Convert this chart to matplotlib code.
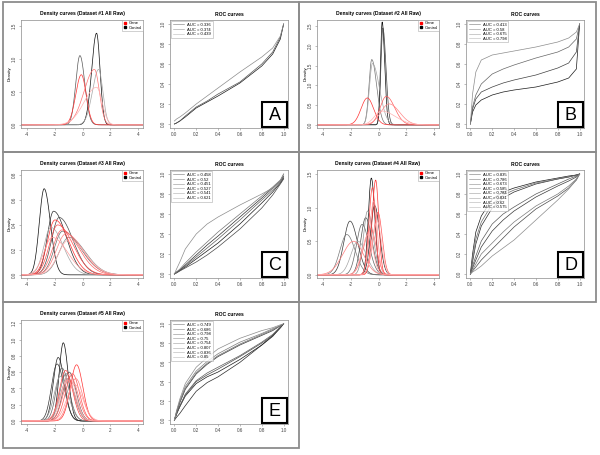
import numpy as np
import matplotlib
matplotlib.use("Agg")
import matplotlib.pyplot as plt
from matplotlib.patches import Rectangle
from matplotlib.lines import Line2D

plt.rcParams['font.family'] = ['Liberation Sans', 'DejaVu Sans']

W, H = 600, 455

# ---------------- data ----------------
titles = ["Density curves (Dataset #1 All Raw)", "Density curves (Dataset #2 All Raw)",
          "Density curves (Dataset #3 All Raw)", "Density curves (Dataset #4 All Raw)",
          "Density curves (Dataset #5 All Raw)"]
letters = ["A", "B", "C", "D", "E"]

# density curves: peak position, peak height, left / right spread
A_gene_peak = [-0.1, 0.85, 1.0]
A_gene_height = [0.76, 0.84, 0.57]
A_gene_left = [0.4, 0.75, 0.9]
A_gene_right = [0.35, 0.35, 0.4]
A_ctrl_peak = [1.0, -0.2, 1.15]
A_ctrl_height = [1.39, 1.05, 0.84]
A_ctrl_left = [0.35, 0.3, 0.45]
A_ctrl_right = [0.25, 0.35, 0.3]

B_gene_peak = [-0.82, 0.55, 0.75, 0.2]
B_gene_height = [0.68, 0.72, 0.53, 0.35]
B_gene_left = [0.45, 0.45, 0.6, 0.5]
B_gene_right = [0.45, 0.6, 0.75, 1.0]
B_ctrl_peak = [0.25, 0.3, -0.5, -0.45]
B_ctrl_height = [2.6, 2.45, 1.65, 1.55]
B_ctrl_left = [0.12, 0.14, 0.2, 0.22]
B_ctrl_right = [0.18, 0.22, 0.35, 0.5]

C_gene_peak = [-2.0, -1.8, -1.5, -1.2, -2.2, -1.0]
C_gene_height = [0.44, 0.40, 0.36, 0.33, 0.30, 0.28]
C_gene_left = [0.55, 0.6, 0.65, 0.7, 0.6, 0.75]
C_gene_right = [1.0, 1.1, 1.2, 1.2, 1.1, 1.2]
C_ctrl_peak = [-2.78, -2.1, -1.7, -1.45, -1.0, -2.3]
C_ctrl_height = [0.69, 0.51, 0.46, 0.35, 0.30, 0.38]
C_ctrl_left = [0.35, 0.45, 0.55, 0.6, 0.7, 0.5]
C_ctrl_right = [0.45, 0.9, 1.0, 1.3, 1.2, 0.9]

D_gene_peak = [-0.22, -0.45, -0.05, -0.58, -1.8, -0.35, -0.75, -0.1]
D_gene_height = [1.41, 1.3, 0.93, 0.69, 0.50, 1.1, 0.6, 0.8]
D_gene_left = [0.25, 0.25, 0.35, 0.5, 0.8, 0.3, 0.45, 0.35]
D_gene_right = [0.22, 0.22, 0.3, 0.4, 0.7, 0.25, 0.35, 0.3]
D_ctrl_peak = [-0.53, -0.29, -2.07, -0.94, -1.2, -2.3, -0.8, -1.5]
D_ctrl_height = [1.44, 1.03, 0.80, 0.85, 0.75, 0.6, 0.95, 0.5]
D_ctrl_left = [0.22, 0.3, 0.45, 0.35, 0.4, 0.5, 0.3, 0.5]
D_ctrl_right = [0.25, 0.35, 0.55, 0.45, 0.5, 0.6, 0.4, 0.6]

E_gene_peak = [-0.44, -1.23, -0.74, -0.9, -0.5, -1.1, -0.6, -1.0]
E_gene_height = [0.69, 0.62, 0.58, 0.55, 0.52, 0.50, 0.45, 0.57]
E_gene_left = [0.45, 0.45, 0.5, 0.5, 0.5, 0.55, 0.55, 0.5]
E_gene_right = [0.45, 0.5, 0.5, 0.55, 0.5, 0.55, 0.6, 0.5]
E_ctrl_peak = [-1.4, -1.77, -1.85, -0.98, -1.5, -1.2, -1.6, -1.1]
E_ctrl_height = [0.96, 0.78, 0.70, 0.60, 0.65, 0.58, 0.55, 0.52]
E_ctrl_left = [0.3, 0.35, 0.4, 0.45, 0.4, 0.45, 0.45, 0.5]
E_ctrl_right = [0.35, 0.45, 0.5, 0.5, 0.5, 0.55, 0.55, 0.55]

# density y axes
dens_ytop = [1.59, 2.65, 0.84, 1.56, 1.24]
dens_yticks = [[0, 0.5, 1.0, 1.5], [0, 0.5, 1.0, 1.5, 2.0, 2.5],
               [0, 0.2, 0.4, 0.6, 0.8], [0, 0.5, 1.0, 1.5],
               [0, 0.2, 0.4, 0.6, 0.8, 1.0, 1.2]]

# ROC curves: TPR at these FPR values
roc_fpr = [0, 0.02, 0.05, 0.1, 0.2, 0.3, 0.4, 0.6, 0.8, 0.9, 0.97, 1.0]

A_auc = ["0.336", "0.374", "0.439"]
A_roc = [[0, 0.01, 0.03, 0.07, 0.16, 0.22, 0.28, 0.41, 0.58, 0.70, 0.85, 1.0],
         [0, 0.01, 0.03, 0.08, 0.17, 0.23, 0.30, 0.42, 0.60, 0.72, 0.87, 1.0],
         [0.03, 0.05, 0.07, 0.11, 0.20, 0.28, 0.36, 0.52, 0.67, 0.76, 0.88, 1.0]]

B_auc = ["0.413", "0.58", "0.675", "0.798"]
B_roc = [[0, 0.12, 0.19, 0.24, 0.29, 0.32, 0.34, 0.37, 0.42, 0.46, 0.55, 1.0],
         [0, 0.15, 0.25, 0.32, 0.37, 0.41, 0.44, 0.49, 0.56, 0.61, 0.72, 1.0],
         [0, 0.17, 0.29, 0.40, 0.50, 0.55, 0.59, 0.66, 0.72, 0.77, 0.85, 1.0],
         [0, 0.30, 0.52, 0.64, 0.69, 0.71, 0.73, 0.77, 0.82, 0.86, 0.92, 1.0]]

C_auc = ["0.458", "0.52", "0.451", "0.527", "0.541", "0.621"]
C_roc = [[0, 0.015, 0.035, 0.07, 0.15, 0.23, 0.31, 0.50, 0.71, 0.82, 0.91, 0.96],
         [0, 0.02, 0.04, 0.09, 0.19, 0.29, 0.38, 0.57, 0.76, 0.86, 0.93, 0.98],
         [0, 0.01, 0.03, 0.06, 0.12, 0.19, 0.27, 0.45, 0.66, 0.79, 0.90, 0.95],
         [0, 0.015, 0.04, 0.08, 0.17, 0.26, 0.35, 0.54, 0.74, 0.84, 0.92, 0.97],
         [0, 0.02, 0.05, 0.11, 0.22, 0.32, 0.42, 0.60, 0.78, 0.87, 0.94, 1.0],
         [0, 0.05, 0.12, 0.25, 0.40, 0.50, 0.57, 0.69, 0.80, 0.86, 0.93, 1.0]]

D_auc = ["0.835", "0.786", "0.673", "0.585", "0.784", "0.831", "0.62", "0.575"]
D_roc = [[0, 0.20, 0.42, 0.58, 0.75, 0.82, 0.86, 0.92, 0.96, 0.98, 0.99, 1.0],
         [0, 0.12, 0.30, 0.48, 0.66, 0.76, 0.82, 0.90, 0.95, 0.97, 0.99, 1.0],
         [0, 0.06, 0.14, 0.27, 0.43, 0.54, 0.63, 0.77, 0.88, 0.93, 0.97, 1.0],
         [0, 0.03, 0.07, 0.14, 0.25, 0.36, 0.47, 0.65, 0.78, 0.86, 0.94, 1.0],
         [0, 0.08, 0.18, 0.33, 0.50, 0.60, 0.67, 0.80, 0.90, 0.95, 0.98, 1.0],
         [0, 0.15, 0.35, 0.52, 0.70, 0.79, 0.84, 0.91, 0.95, 0.97, 0.99, 1.0],
         [0, 0.04, 0.10, 0.20, 0.31, 0.42, 0.52, 0.68, 0.80, 0.88, 0.95, 1.0],
         [0, 0.02, 0.04, 0.08, 0.18, 0.26, 0.34, 0.54, 0.74, 0.85, 0.94, 1.0]]

E_auc = ["0.749", "0.686", "0.798", "0.75", "0.754", "0.807", "0.836", "0.85"]
E_roc = [[0, 0.07, 0.14, 0.25, 0.38, 0.45, 0.50, 0.63, 0.78, 0.87, 0.96, 1.0],
         [0, 0.03, 0.07, 0.15, 0.30, 0.39, 0.45, 0.60, 0.78, 0.88, 0.96, 1.0],
         [0, 0.08, 0.18, 0.32, 0.48, 0.58, 0.66, 0.78, 0.88, 0.93, 0.98, 1.0],
         [0, 0.06, 0.15, 0.26, 0.40, 0.47, 0.53, 0.66, 0.80, 0.88, 0.96, 1.0],
         [0, 0.06, 0.14, 0.27, 0.41, 0.49, 0.55, 0.67, 0.81, 0.89, 0.97, 1.0],
         [0, 0.08, 0.19, 0.33, 0.49, 0.59, 0.67, 0.79, 0.89, 0.94, 0.98, 1.0],
         [0, 0.09, 0.20, 0.35, 0.51, 0.61, 0.69, 0.81, 0.90, 0.95, 0.98, 1.0],
         [0, 0.10, 0.22, 0.38, 0.55, 0.65, 0.74, 0.85, 0.93, 0.96, 0.99, 1.0]]

genes = [
    (A_gene_peak, A_gene_height, A_gene_left, A_gene_right),
    (B_gene_peak, B_gene_height, B_gene_left, B_gene_right),
    (C_gene_peak, C_gene_height, C_gene_left, C_gene_right),
    (D_gene_peak, D_gene_height, D_gene_left, D_gene_right),
    (E_gene_peak, E_gene_height, E_gene_left, E_gene_right),
]
ctrls = [
    (A_ctrl_peak, A_ctrl_height, A_ctrl_left, A_ctrl_right),
    (B_ctrl_peak, B_ctrl_height, B_ctrl_left, B_ctrl_right),
    (C_ctrl_peak, C_ctrl_height, C_ctrl_left, C_ctrl_right),
    (D_ctrl_peak, D_ctrl_height, D_ctrl_left, D_ctrl_right),
    (E_ctrl_peak, E_ctrl_height, E_ctrl_left, E_ctrl_right),
]
aucs = [A_auc, B_auc, C_auc, D_auc, E_auc]
rocs = [A_roc, B_roc, C_roc, D_roc, E_roc]

# panel frames in pixels: x, y, w, h
panels = [(3, 2, 296, 150), (299, 2, 297, 150), (3, 152, 296, 150),
          (299, 152, 297, 150), (3, 302, 296, 146)]


def px_axes(fig, x, y, w, h):
    return fig.add_axes([x / W, 1 - (y + h) / H, w / W, h / H])


def fig_text(fig, x, y, s, **kw):
    fig.text(x / W, 1 - y / H, s, **kw)


def curve(xs, peak, height, left, right):
    s = np.where(xs < peak, left, right)
    return height * np.exp(-0.5 * ((xs - peak) / s) ** 2)


def style_axes(ax):
    for sp in ax.spines.values():
        sp.set_color('#8a8a8a')
        sp.set_linewidth(0.5)
    ax.tick_params(labelsize=3.3, length=1.6, width=0.4, pad=1.2,
                   color='#8a8a8a', labelcolor='#444444')
    ax.tick_params(axis='y', labelrotation=90)
    for lab in ax.get_yticklabels():
        lab.set_verticalalignment('center')


fig = plt.figure(figsize=(6, 4.55), dpi=100)
xs = np.linspace(-4.4, 4.4, 500)

for i, (px, py, pw, ph) in enumerate(panels):
    # panel frame
    fig.patches.append(Rectangle((px / W, 1 - (py + ph) / H), pw / W, ph / H,
                                 transform=fig.transFigure, fill=False,
                                 edgecolor='#8c8c8c', linewidth=1.3))
    axh = ph - 42

    # ---- density curves ----
    ax = px_axes(fig, px + 18, py + 18, 122, axh)
    gp, gh, gl, gr = genes[i]
    cp, chh, cl, cr = ctrls[i]
    n = len(gp)
    for j in range(n):
        t = j / max(n - 1, 1)
        ax.plot(xs, curve(xs, cp[j], chh[j], cl[j], cr[j]),
                color=str(0.05 + 0.6 * t), lw=0.5)
    for j in range(n):
        t = j / max(n - 1, 1)
        c = (1.0, 0.2 + 0.5 * t, 0.2 + 0.5 * t)
        ax.plot(xs, curve(xs, gp[j], gh[j], gl[j], gr[j]), color=c, lw=0.5)
    ax.set_xlim(-4.45, 4.35)
    top = dens_ytop[i]
    ax.set_ylim(-0.03 * top, top)
    ax.set_xticks([-4, -2, 0, 2, 4])
    ax.set_yticks(dens_yticks[i])
    ax.set_xticklabels(["-4", "-2", "0", "2", "4"])
    ax.set_yticklabels(["%.1f" % v for v in dens_yticks[i]])
    style_axes(ax)
    handles = [Line2D([], [], ls='', marker='s', ms=1.8, color='red'),
               Line2D([], [], ls='', marker='s', ms=1.8, color='black')]
    leg = ax.legend(handles, ["Gene", "Control"], loc='upper right',
                    fontsize=3.0, borderaxespad=0.0, handlelength=0.7,
                    handletextpad=0.4, borderpad=0.35, labelspacing=0.1,
                    fancybox=False)
    leg.get_frame().set_edgecolor('#999999')
    leg.get_frame().set_linewidth(0.4)
    fig_text(fig, px + 79, py + 12, titles[i], ha='center', va='center',
             fontsize=3.6, fontweight='bold')
    fig_text(fig, px + 7, py + 18 + axh / 2, "Density", ha='center',
             va='center', rotation=90, fontsize=3.2)

    # ---- ROC curves ----
    ax = px_axes(fig, px + 167, py + 18, 118, axh)
    m = len(rocs[i])
    for j, tpr in enumerate(rocs[i]):
        t = j / max(m - 1, 1)
        ax.plot(roc_fpr, tpr, color=str(0.1 + 0.45 * t), lw=0.5,
                label="AUC = " + aucs[i][j])
    ax.set_xlim(-0.04, 1.04)
    ax.set_ylim(-0.04, 1.04)
    ticks = [0, 0.2, 0.4, 0.6, 0.8, 1.0]
    ax.set_xticks(ticks)
    ax.set_yticks(ticks)
    ax.set_xticklabels(["%.1f" % v for v in ticks])
    ax.set_yticklabels(["%.1f" % v for v in ticks])
    style_axes(ax)
    leg = ax.legend(loc='upper left', fontsize=3.0, borderaxespad=0.3,
                    handlelength=2.6, handletextpad=0.8, borderpad=0.4,
                    labelspacing=0.15, fancybox=False)
    leg.get_frame().set_edgecolor('#999999')
    leg.get_frame().set_linewidth(0.4)
    for ln in leg.get_lines():
        ln.set_linewidth(0.4)
        ln.set_alpha(0.6)
    fig_text(fig, px + 226, py + 12, "ROC curves", ha='center', va='center',
             fontsize=3.6, fontweight='bold')

    # letter box
    ly = py + ph - 50
    fig.patches.append(Rectangle(((px + 259) / W, 1 - (ly + 25) / H), 25 / W, 25 / H,
                                 transform=fig.transFigure, facecolor='white',
                                 edgecolor='black', linewidth=1.5, zorder=5))
    fig_text(fig, px + 271.5, ly + 13, letters[i], ha='center', va='center',
             fontsize=13, zorder=6)

fig.savefig("out.png", dpi=100)
